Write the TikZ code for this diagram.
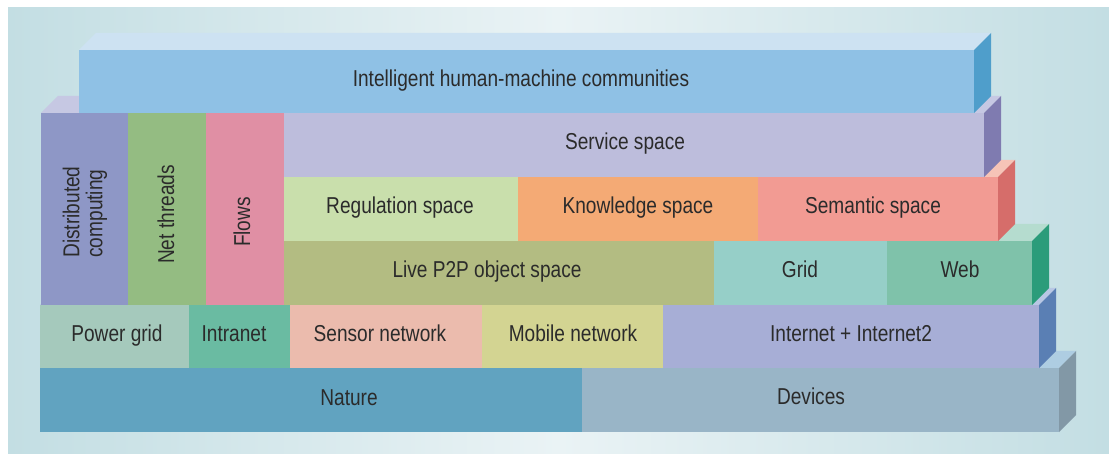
\documentclass[tikz,border=0pt]{standalone}
\usepackage{fontspec}
\setmainfont{Liberation Sans}[FakeStretch=0.83]
\definecolor{txt}{HTML}{2B2B2B}
\definecolor{bgA}{HTML}{C3DEE3}
\definecolor{bgB}{HTML}{EAF3F5}
% fronts
\definecolor{cInt}{HTML}{8FC1E5}\definecolor{cIntT}{HTML}{CDE2F2}\definecolor{cIntS}{HTML}{4F9ECB}
\definecolor{cSrv}{HTML}{BDBDDC}\definecolor{cSrvT}{HTML}{C6C8E3}\definecolor{cSrvS}{HTML}{7F7BB0}
\definecolor{cDist}{HTML}{8E97C6}\definecolor{cNet}{HTML}{94BC82}\definecolor{cFlow}{HTML}{E08FA4}
\definecolor{cReg}{HTML}{C9DFAC}\definecolor{cKno}{HTML}{F4AA75}\definecolor{cSem}{HTML}{F29B93}
\definecolor{cSemT}{HTML}{F6C4B7}\definecolor{cSemS}{HTML}{D66D6A}
\definecolor{cLive}{HTML}{B3BC82}\definecolor{cGrid}{HTML}{96CFC8}\definecolor{cWeb}{HTML}{7FC2AA}
\definecolor{cWebT}{HTML}{B5DCCF}\definecolor{cWebS}{HTML}{2B9C7A}
\definecolor{cPow}{HTML}{A5C9BC}\definecolor{cIntra}{HTML}{6ABBA2}\definecolor{cSens}{HTML}{EBBBAD}
\definecolor{cMob}{HTML}{D3D492}\definecolor{cInet}{HTML}{A7AED6}
\definecolor{cInetT}{HTML}{B8C7E4}\definecolor{cInetS}{HTML}{5A7FB4}
\definecolor{cNat}{HTML}{61A3C0}\definecolor{cDev}{HTML}{99B5C7}
\definecolor{cDevT}{HTML}{AECDE2}\definecolor{cDevS}{HTML}{8298A6}
\tikzset{
  box/.style={rectangle, inner sep=0pt, outer sep=0pt, draw=none},
  lbl/.style={anchor=base, text=txt, font=\fontsize{23}{23}\selectfont, inner sep=0pt},
  vlbl/.style={anchor=center, text=txt, font=\fontsize{23}{23}\selectfont, inner sep=0pt, rotate=90, align=left},
}
% name, x1, y1, x2, y2, colour
\newcommand\blk[6]{%
  \node[box, fill=#6, minimum width={(#4-#2)*1pt}, minimum height={(#5-#3)*1pt}]
    (#1) at ({(#2+#4)/2},{(#3+#5)/2}) {};}
% x1, x2, y-front-top, colour
\newcommand\topface[4]{%
  \fill[#4] (#1,#3) -- ({#1+17},{#3-17}) -- ({#2+17},{#3-17}) -- (#2,#3) -- cycle;}
% x2, y1, y2, colour
\newcommand\sideface[4]{%
  \fill[#4] (#1,#2) -- ({#1+17},{#2-17}) -- ({#1+17},{#3-17}) -- (#1,#3) -- cycle;}
\begin{document}
\begin{tikzpicture}[x=1pt,y=-1pt]
\useasboundingbox (0,0) rectangle (1109,454);
\fill[left color=bgA, right color=bgA, middle color=bgB] (8,8) rectangle (1109,454);

% row 6
\topface{40}{1059}{368}{cDevT}
\sideface{1059}{368}{432}{cDevS}
\blk{nature}{40}{368}{582}{432}{cNat}
\blk{devices}{582}{368}{1059}{432}{cDev}
\node[lbl] (natureT) at (349,406) {Nature};
\node[lbl] (devicesT) at (811,404) {Devices};

% row 5
\topface{40}{1039}{305}{cInetT}
\sideface{1039}{305}{368}{cInetS}
\blk{powergrid}{40}{305}{189}{368}{cPow}
\blk{intranet}{189}{305}{290}{368}{cIntra}
\blk{sensor}{290}{305}{482}{368}{cSens}
\blk{mobile}{482}{305}{663}{368}{cMob}
\blk{internet}{663}{305}{1039}{368}{cInet}
\node[lbl] (powergridT) at (117,342) {Power grid};
\node[lbl] (intranetT) at (234,342) {Intranet};
\node[lbl] (sensorT) at (380,342) {Sensor network};
\node[lbl] (mobileT) at (573,342) {Mobile network};
\node[lbl] (internetT) at (851,342) {Internet + Internet2};

% row 4
\topface{284}{1032}{241}{cWebT}
\sideface{1032}{241}{305}{cWebS}
\blk{live}{284}{241}{714}{305}{cLive}
\blk{grid}{714}{241}{887}{305}{cGrid}
\blk{web}{887}{241}{1032}{305}{cWeb}
\node[lbl] (liveT) at (487,278) {Live P2P object space};
\node[lbl] (gridT) at (800,278) {Grid};
\node[lbl] (webT) at (960,278) {Web};

% row 3
\topface{284}{998}{177}{cSemT}
\sideface{998}{177}{241}{cSemS}
\blk{regulation}{284}{177}{518}{241}{cReg}
\blk{knowledge}{518}{177}{758}{241}{cKno}
\blk{semantic}{758}{177}{998}{241}{cSem}
\node[lbl] (regulationT) at (400,214) {Regulation space};
\node[lbl] (knowledgeT) at (638,214) {Knowledge space};
\node[lbl] (semanticT) at (873,214) {Semantic space};

% row 2 + left columns
\topface{41}{984}{113}{cSrvT}
\sideface{984}{113}{177}{cSrvS}
\blk{service}{284}{113}{984}{177}{cSrv}
\blk{distributed}{41}{113}{128}{305}{cDist}
\blk{netthreads}{128}{113}{206}{305}{cNet}
\blk{flows}{206}{113}{284}{305}{cFlow}
\node[lbl] (serviceT) at (625,150) {Service space};
\node[vlbl] (distributedT) at (85,212) {Distributed\\computing};
\node[vlbl] (netthreadsT) at (166,214.5) {Net threads};
\node[vlbl] (flowsT) at (242,222) {Flows};

% row 1
\topface{79}{974}{50}{cIntT}
\sideface{974}{50}{113}{cIntS}
\blk{intelligent}{79}{50}{974}{113}{cInt}
\node[lbl] (intelligentT) at (521,87) {Intelligent human-machine communities};
\end{tikzpicture}
\end{document}
